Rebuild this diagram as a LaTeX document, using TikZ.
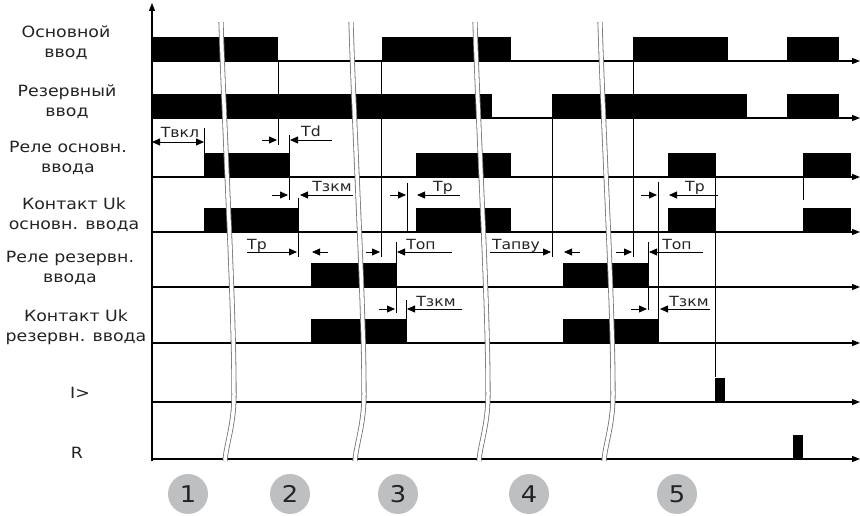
\documentclass[tikz,border=0pt]{standalone}
\usepackage{fontspec}
\newfontfamily\gothic[FakeStretch=1.12]{DejaVu Sans}
\usetikzlibrary{arrows.meta}
\definecolor{ink}{RGB}{35,35,35}
\definecolor{disc}{RGB}{189,191,193}
\tikzstyle{lab}=[font=\gothic\fontsize{15.5}{20}\selectfont, align=center, text=ink, inner sep=0pt]
\tikzstyle{tlab}=[font=\gothic\fontsize{14}{16}\selectfont, text=ink, inner sep=0pt, anchor=base]
\tikzstyle{axis}=[line width=1.2pt, -{Triangle[length=8pt,width=6pt]}]
\tikzstyle{guide}=[line width=0.6pt]
\tikzstyle{dim}=[line width=0.8pt, -{Triangle[length=8pt,width=7pt]}]
\tikzstyle{dimb}=[line width=0.8pt, {Triangle[length=8pt,width=7pt]}-{Triangle[length=8pt,width=7pt]}]
\tikzstyle{brk}=[draw=black!55, line width=0.8pt, double=white, double distance=3.5pt]
\tikzstyle{num}=[circle, fill=disc, minimum size=40pt, inner sep=0pt,
                 font=\gothic\fontsize{23}{23}\selectfont, text=ink]

\begin{document}
\begin{tikzpicture}[x=1pt, y=-1pt]
    \useasboundingbox (0,0) rectangle (860,516);
    \foreach \l/\r/\y in {152/278/61, 382/511/61, 633/728/61, 787/839/61,
                          152/492/118, 552/747/118, 787/839/118,
                          204/289/177, 416/511/177, 668/716/177, 803/851/177,
                          204/298/232, 416/511/232, 668/716/232, 803/851/232,
                          311/396/287, 563/648/287, 311/406/343, 563/658/343,
                          715/725/402, 793/803/459}
        \fill[black] (\l,\y) rectangle (\r,{\y-24});
    \foreach \y in {61,118,177,232,287,343,402,459}
        \draw[axis] (152,\y) -- (860,\y);
    \draw[axis] (152,461) -- (152,3);
    \foreach \x/\p/\q in {204/128/153, 278/61/145, 289/135/200, 298/198/257,
                          381/61/257, 396/242/313, 406/300/343, 407/183/232,
                          552/118/257, 633/61/257, 648/242/310, 658/182/343,
                          715/177/377, 803/177/200}
        \draw[guide] (\x,\p) -- (\x,\q);
    \draw[dimb] (152,142) -- (204,142);
    \foreach \a/\b/\y in {262/277/140, 332/290/140, 272/288/195, 353/300/195,
                          247/297/252, 328/312/252, 366/380/252, 452/397/252,
                          379/395/309, 462/407/309, 390/406/195, 460/417/195,
                          490/551/252, 580/564/252, 616/632/252, 703/649/252,
                          641/657/195, 718/669/195, 631/647/309, 710/660/309}
        \draw[dim] (\a,\y) -- (\b,\y);
    \node[lab] (main) at (66,43)  {Основной\\ввод};
    \node[lab] (res)  at (67,102) {Резервный\\ввод};
    \node[lab] (rm)   at (68,158) {Реле основн.\\ввода};
    \node[lab] (km)   at (74,215) {Контакт Uk\\основн. ввода};
    \node[lab] (rr)   at (70,268) {Реле резервн.\\ввода};
    \node[lab] (kr)   at (76,327) {Контакт Uk\\резервн. ввода};
    \node[lab] (ov)   at (80,393) {I>};
    \node[lab] (rs)   at (77,453) {R};
    \node[tlab] (tvkl)  at (180,138) {Твкл};
    \node[tlab] (td)    at (311,137) {Td};
    \node[tlab] (tzkm1) at (332,192) {Тзкм};
    \node[tlab] (tr1)   at (257,249) {Тр};
    \node[tlab] (ton1)  at (421,249) {Топ};
    \node[tlab] (tzkm2) at (436,306) {Тзкм};
    \node[tlab] (tr2)   at (443,192) {Тр};
    \node[tlab] (tapvu) at (516,249) {Тапву};
    \node[tlab] (ton2)  at (677,249) {Топ};
    \node[tlab] (tr3)   at (695,192) {Тр};
    \node[tlab] (tzkm3) at (689,306) {Тзкм};
    \foreach \x in {221,351,475,600}
        \draw[brk] (\x,22) .. controls ({\x+4},150) and ({\x+13},300) .. ({\x+13},395)
                   .. controls ({\x+13},425) and ({\x+5},445) .. ({\x+4},461);
    \foreach \n/\x in {1/188, 2/290, 3/398, 4/529, 5/677}
        \node[num] (c\n) at (\x,494) {\n};
\end{tikzpicture}
\end{document}
